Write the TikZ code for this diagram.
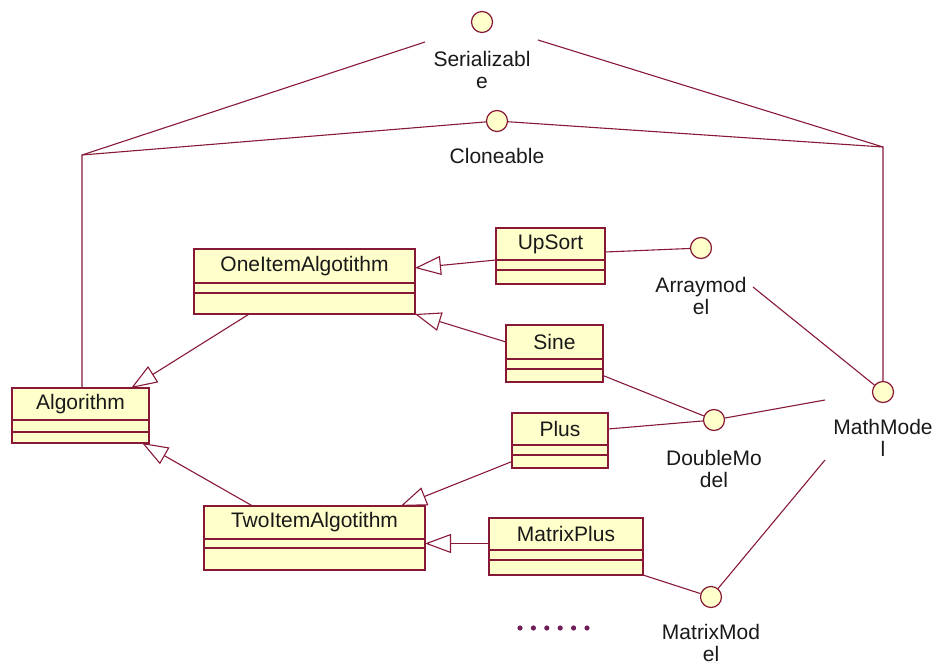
\documentclass[tikz,border=0pt]{standalone}
\usepackage{fontspec}
\setmainfont{Liberation Sans}
\usetikzlibrary{arrows.meta,%
                positioning,%
                calc,%
                fit}
\definecolor{uml-line}{RGB}{135,25,55}
\definecolor{uml-fill}{RGB}{255,255,204}
\definecolor{uml-text}{RGB}{25,25,25}
\definecolor{uml-dots}{RGB}{110,30,90}
\tikzset{
  clsname/.style={draw=uml-line, fill=uml-fill, line width=1.3pt, inner sep=0pt,
    outer sep=0pt, text=uml-text, font=\fontsize{21}{23}\selectfont},
  clspart/.style={draw=uml-line, fill=uml-fill, line width=1.3pt, inner sep=0pt, outer sep=0pt},
  iface/.style={circle, draw=uml-line, fill=uml-fill, line width=1.2pt, minimum size=21pt, inner sep=0pt},
  ifacelabel/.style={align=center, inner sep=0pt, text=uml-text, font=\fontsize{21}{22}\selectfont},
  realize/.style={draw=uml-line, line width=1.1pt},
  inherit/.style={draw=uml-line, line width=1.1pt, -{Triangle[open, length=26pt, width=19pt]}},
}
% class box: name, text, left, top, width, heights of the three parts
\newcommand{\umlclass}[8]{%
  \node[clsname, anchor=north west, minimum width=#5pt, minimum height=#6pt] (#1-n) at (#3,#4) {#2};
  \node[clspart, anchor=north, minimum width=#5pt, minimum height=#7pt] (#1-a) at (#1-n.south) {};
  \node[clspart, anchor=north, minimum width=#5pt, minimum height=#8pt] (#1-o) at (#1-a.south) {};
  \node[fit=(#1-n)(#1-o), inner sep=0pt, outer sep=0pt] (#1) {};
}
\begin{document}
\begin{tikzpicture}[x=1pt, y=-1pt]
  \useasboundingbox (0,0) rectangle (938,666);

  % classes
  \umlclass{alg}{Algorithm}{12}{388}{137}{32}{12}{11}
  \umlclass{one}{OneItemAlgotithm}{194}{249}{221}{34}{10}{21}
  \umlclass{two}{TwoItemAlgotithm}{204}{506}{221}{33}{9}{22}
  \umlclass{upsort}{UpSort}{496}{228}{109}{32}{10}{14}
  \umlclass{sine}{Sine}{506}{325}{97}{34}{10}{13}
  \umlclass{plus}{Plus}{512}{413}{96}{32}{10}{13}
  \umlclass{mplus}{MatrixPlus}{489}{518}{154}{32}{10}{15}

  % interfaces
  \node[iface] (ser) at (482,22) {};
  \node[ifacelabel, below=18pt of ser] (ser-l) {Serializabl\\e};
  \node[iface] (cl) at (497,121) {};
  \node[ifacelabel, below=16pt of cl] (cl-l) {Cloneable};
  \node[iface] (arr) at (701,248) {};
  \node[ifacelabel, below=18pt of arr] (arr-l) {Arraymod\\el};
  \node[iface] (dm) at (714,420) {};
  \node[ifacelabel, below=19pt of dm] (dm-l) {DoubleMo\\del};
  \node[iface] (mm) at (711,597) {};
  \node[ifacelabel, below=16pt of mm] (mm-l) {MatrixMod\\el};
  \node[iface] (math) at (883,392) {};
  \node[ifacelabel, below=16pt of math] (math-l) {MathMode\\l};

  \coordinate (lc) at (82,155);
  \coordinate (rc) at (883,147);
  \coordinate (serL) at (425,42);
  \coordinate (serR) at (538,40);
  \coordinate (arrend) at (753,287);
  \coordinate (dmend) at (825,400);
  \coordinate (mmend) at (825,460);

  % top frame
  \draw[realize] (serL) -- (lc) -- (lc |- alg.north);
  \draw[realize] (lc) -- (cl);
  \draw[realize] (cl) -- (rc);
  \draw[realize] (serR) -- (rc) -- (math);

  % generalizations
  \draw[inherit] (upsort-n.south west) -- (one.7);
  \draw[inherit] (sine-n.west) -- (one.south east);
  \draw[inherit] ($(one.south west)!0.25!(one.south east)$) -- ($(alg.north west)!0.87!(alg.north east)$);
  \draw[inherit] ($(two.north west)!0.22!(two.north east)$) -- ($(alg.south west)!0.95!(alg.south east)$);
  \draw[inherit] (plus-o.west) -- ($(two.north west)!0.89!(two.north east)$);
  \draw[inherit] (mplus.west |- two-a.east) -- (two-a.east);

  % realizations
  \draw[realize] ([yshift=-8pt]upsort-n.east) -- (arr);
  \draw[realize] (sine-o.east) -- (dm);
  \draw[realize] (plus-n.east) -- (dm);
  \draw[realize] (dm) -- (dmend);
  \draw[realize] (mplus.south east) -- (mm);
  \draw[realize] (mm) -- (mmend);
  \draw[realize] (arrend) -- (math);

  % more classes
  \foreach \i in {0,...,5}
    \fill[uml-dots] (520+13.4*\i,628) circle (2.6);
\end{tikzpicture}
\end{document}
